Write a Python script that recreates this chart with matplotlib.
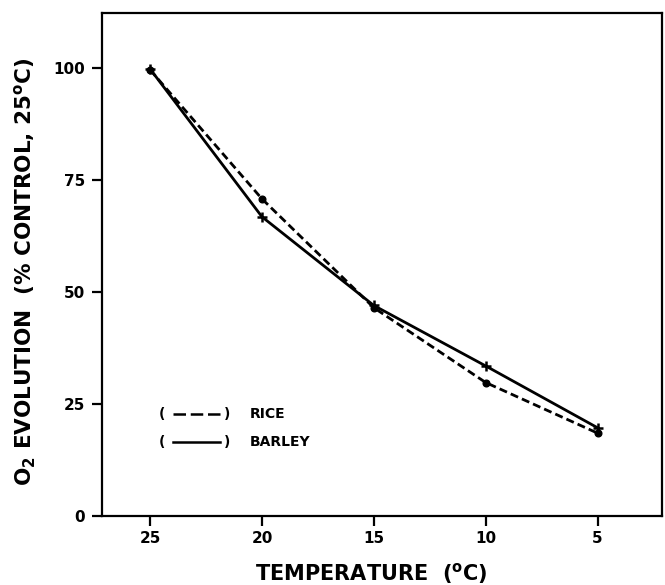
import matplotlib
matplotlib.use("Agg")
import matplotlib.pyplot as plt

plt.rcParams['font.family'] = ['DejaVu Sans']
plt.rcParams['mathtext.fontset'] = 'dejavusans'
plt.rcParams['mathtext.default'] = 'bf'

temps = [25, 20, 15, 10, 5]
rice = [99.6, 70.8, 46.5, 29.8, 18.5]
barley = [99.8, 66.8, 47.0, 33.5, 19.7]
xticks = [25, 20, 15, 10, 5]
yticks = [0, 25, 50, 75, 100]

W, H = 665, 585
fig = plt.figure(figsize=(W / 100, H / 100), dpi=100)
ax = fig.add_axes([102 / W, 1 - 516 / H, (662 - 102) / W, (516 - 13) / H])

ax.plot(temps, rice, color='black', lw=2.0, dashes=[2.9, 1.5],
        marker='o', markersize=4.8)
ax.plot(temps, barley, color='black', lw=2.0, linestyle='-',
        marker='+', markersize=6.5, markeredgewidth=1.8)

ax.set_xlim(27.15, 2.12)
ax.set_ylim(0, 112.3)
ax.set_xticks(xticks)
ax.set_yticks(yticks)
ax.set_xticklabels([str(t) for t in xticks])
ax.set_yticklabels([str(t) for t in yticks])
ax.tick_params(direction='out', length=7, width=1.6, labelsize=11, pad=4)
ax.tick_params(axis='y', pad=5)
for lab in ax.get_xticklabels() + ax.get_yticklabels():
    lab.set_fontweight('bold')
for s in ax.spines.values():
    s.set_linewidth(1.6)

# legend
tr = ax.transAxes
for ytxt, label, style in [(0.203, 'RICE', 'dash'), (0.148, 'BARLEY', 'solid')]:
    ax.text(0.107, ytxt, '(', transform=tr, ha='center', va='center',
            fontsize=10, fontweight='bold')
    ax.text(0.223, ytxt, ')', transform=tr, ha='center', va='center',
            fontsize=10, fontweight='bold')
    if style == 'dash':
        ax.plot([0.127, 0.211], [ytxt, ytxt], transform=tr, color='black',
                lw=1.8, dashes=[5.0, 1.9])
    else:
        ax.plot([0.127, 0.211], [ytxt, ytxt], transform=tr, color='black',
                lw=1.8)
    ax.text(0.264, ytxt, label, transform=tr, ha='left', va='center',
            fontsize=10, fontweight='bold')

fig.text(371 / W, 1 - 573 / H, r'TEMPERATURE  ($^{o}$C)',
         ha='center', va='center', fontsize=15, fontweight='bold')
fig.text(25 / W, 1 - 272 / H,
         r'O$_{2}$ EVOLUTION  (% CONTROL, 25$^{o}$C)',
         ha='center', va='center', rotation=90, fontsize=15.5,
         fontweight='bold')

fig.savefig('out.png', dpi=100)
